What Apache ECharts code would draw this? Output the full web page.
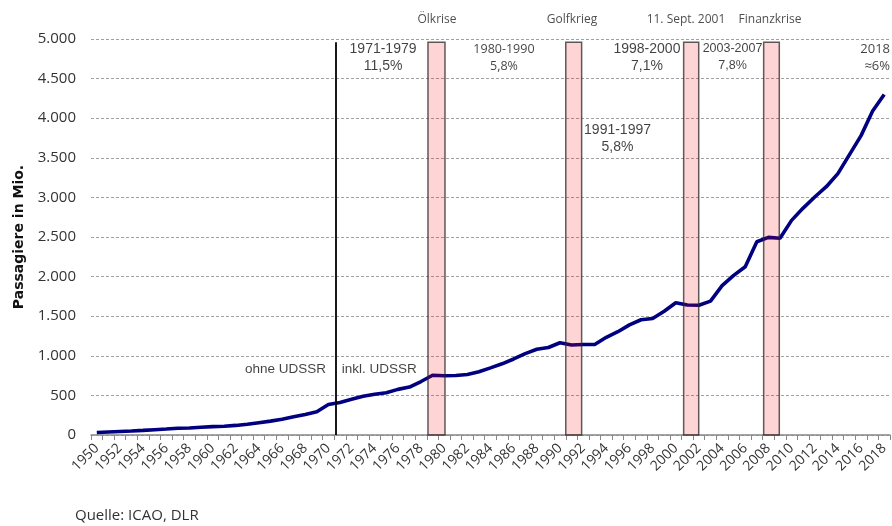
<!DOCTYPE html>
<html>
<head>
<meta charset="utf-8">
<script src="https://cdn.jsdelivr.net/npm/echarts@6/dist/echarts.min.js"></script>
<style>html,body{margin:0;padding:0;background:#fff}#c{width:892px;height:526px}</style>
</head>
<body>
<div id="c"></div>
<script>
const years = ['1950','1951','1952','1953','1954','1955','1956','1957','1958','1959',
'1960','1961','1962','1963','1964','1965','1966','1967','1968','1969',
'1970','1971','1972','1973','1974','1975','1976','1977','1978','1979',
'1980','1981','1982','1983','1984','1985','1986','1987','1988','1989',
'1990','1991','1992','1993','1994','1995','1996','1997','1998','1999',
'2000','2001','2002','2003','2004','2005','2006','2007','2008','2009',
'2010','2011','2012','2013','2014','2015','2016','2017','2018'];
const passengers = [31,38,45,51,58,67,75,85,88,98,
106,111,121,135,155,175,198,230,260,293,
385,411,450,489,515,534,576,605,675,754,
748,752,764,798,848,899,960,1028,1082,1105,
1165,1136,1142,1142,1233,1304,1391,1455,1471,1562,
1670,1641,1639,1691,1885,2015,2125,2440,2495,2485,
2710,2865,3005,3135,3300,3540,3780,4090,4300];
const yTicks = [0,500,1000,1500,2000,2500,3000,3500,4000,4500,5000];
const crisisNames = ['Ölkrise','Golfkrieg','11. Sept. 2001','Finanzkrise'];
const crisisStart = [1978.6, 1990.5, 2000.68, 2007.59];
const crisisEnd = [1980.07, 1991.87, 2001.98, 2008.94];
const crisisTop = 4960;
const crisisLabelYear = [1979.38, 1991.04, 2000.88, 2008.14];
const ussrBreakYear = 1970.65;
const growthLabels = ['1971-1979\n11,5%','1980-1990\n5,8%','1998-2000\n7,1%','2003-2007\n7,8%','2018\n≈6%','1991-1997\n5,8%'];
const growthYear = [1974.72, 1985.16, 1997.51, 2004.9, 2018.5, 1994.97];
const growthValue = [4760, 4760, 4760, 4770, 4760, 3737];
const ussrLabels = ['ohne UDSSR','inkl. UDSSR'];
const ussrYear = [1969.79, 1971.15];
const ussrValue = [833, 833];

const fmt = v => String(v).replace(/\B(?=(\d{3})+(?!\d))/g, '.');

const chart = echarts.init(document.getElementById('c'), null, {renderer:'canvas'});

const annData = [];
crisisNames.forEach((n,i)=>annData.push({value:[crisisLabelYear[i],5240], name:n,
  label:{show:true,position:'inside',formatter:n,fontFamily:'Open Sans',fontSize:12,color:'#222'}}));
const growthStyles = [
 {fontFamily:'Liberation Sans',fontSize:14},
 {fontFamily:'Open Sans',fontSize:12.5},
 {fontFamily:'Liberation Sans',fontSize:14},
 {fontFamily:'Liberation Sans',fontSize:12.5},
 {fontFamily:'Open Sans',fontSize:13},
 {fontFamily:'Liberation Sans',fontSize:14}
];
growthLabels.forEach((t,i)=>{
  const st = growthStyles[i];
  const isRight = i===4;
  annData.push({value:[growthYear[i],growthValue[i]],
    label:{show:true, position: isRight?'left':'inside', distance:0, align: isRight?'right':'center',
      formatter:t, fontFamily:st.fontFamily, fontSize:st.fontSize, lineHeight:17, color:'#111'}});
});
ussrLabels.forEach((t,i)=>annData.push({value:[ussrYear[i],ussrValue[i]],
  label:{show:true, position: i===0?'left':'right', distance:0, formatter:t,
    fontFamily:'Liberation Sans', fontSize:13.5, color:'#111'}}));

const option = {
  animation:false,
  title:{text:'Quelle: ICAO, DLR', left:75, top:508, padding:0,
    textStyle:{fontFamily:'Open Sans',fontSize:15,fontWeight:'normal',color:'#333'}},
  grid:{left:91,right:2,top:39,bottom:91,containLabel:false},
  xAxis:[{
    type:'category', data:years, boundaryGap:true,
    axisLine:{lineStyle:{color:'#888',width:1.5}},
    axisTick:{show:true,interval:0,length:5,lineStyle:{color:'#888'}},
    axisLabel:{interval:1,rotate:45,margin:11,fontFamily:'Open Sans',fontSize:14,color:'#333'}
  },{
    type:'value', min:1949.5, max:2018.5, show:false
  }],
  yAxis:{
    type:'value', min:0, max:5000, interval:500,
    name:'Passagiere in Mio.', nameLocation:'middle', nameGap:65, nameRotate:90,
    nameTextStyle:{fontFamily:'DejaVu Sans',fontSize:14,fontWeight:'bold',color:'#111'},
    axisLine:{show:false}, axisTick:{show:false},
    axisLabel:{margin:15,fontFamily:'Open Sans',fontSize:15,color:'#333',formatter:fmt},
    splitLine:{lineStyle:{color:'#a0a0a0',type:[3,2],width:1}}
  },
  series:[{
    type:'line', data:passengers, xAxisIndex:0, symbol:'none', z:1,
    lineStyle:{color:'#000080',width:3.6}, smooth:false
  },{
    type:'scatter', xAxisIndex:1, data:annData, symbolSize:0, clip:false, z:5, silent:true,
    markArea:{silent:true, z:6,
      itemStyle:{color:'rgba(255,0,0,0.17)',borderColor:'rgba(40,40,40,0.75)',borderWidth:1.5},
      data: crisisStart.map((s,i)=>[{xAxis:s,yAxis:0},{xAxis:crisisEnd[i],yAxis:crisisTop}])
    },
    markLine:{silent:true,symbol:'none',label:{show:false}, z:6,
      lineStyle:{color:'#000',width:1.8,type:'solid'},
      data:[[{coord:[ussrBreakYear,0]},{coord:[ussrBreakYear,crisisTop]}]]
    }
  }]
};
chart.setOption(option);
</script>
</body>
</html>
